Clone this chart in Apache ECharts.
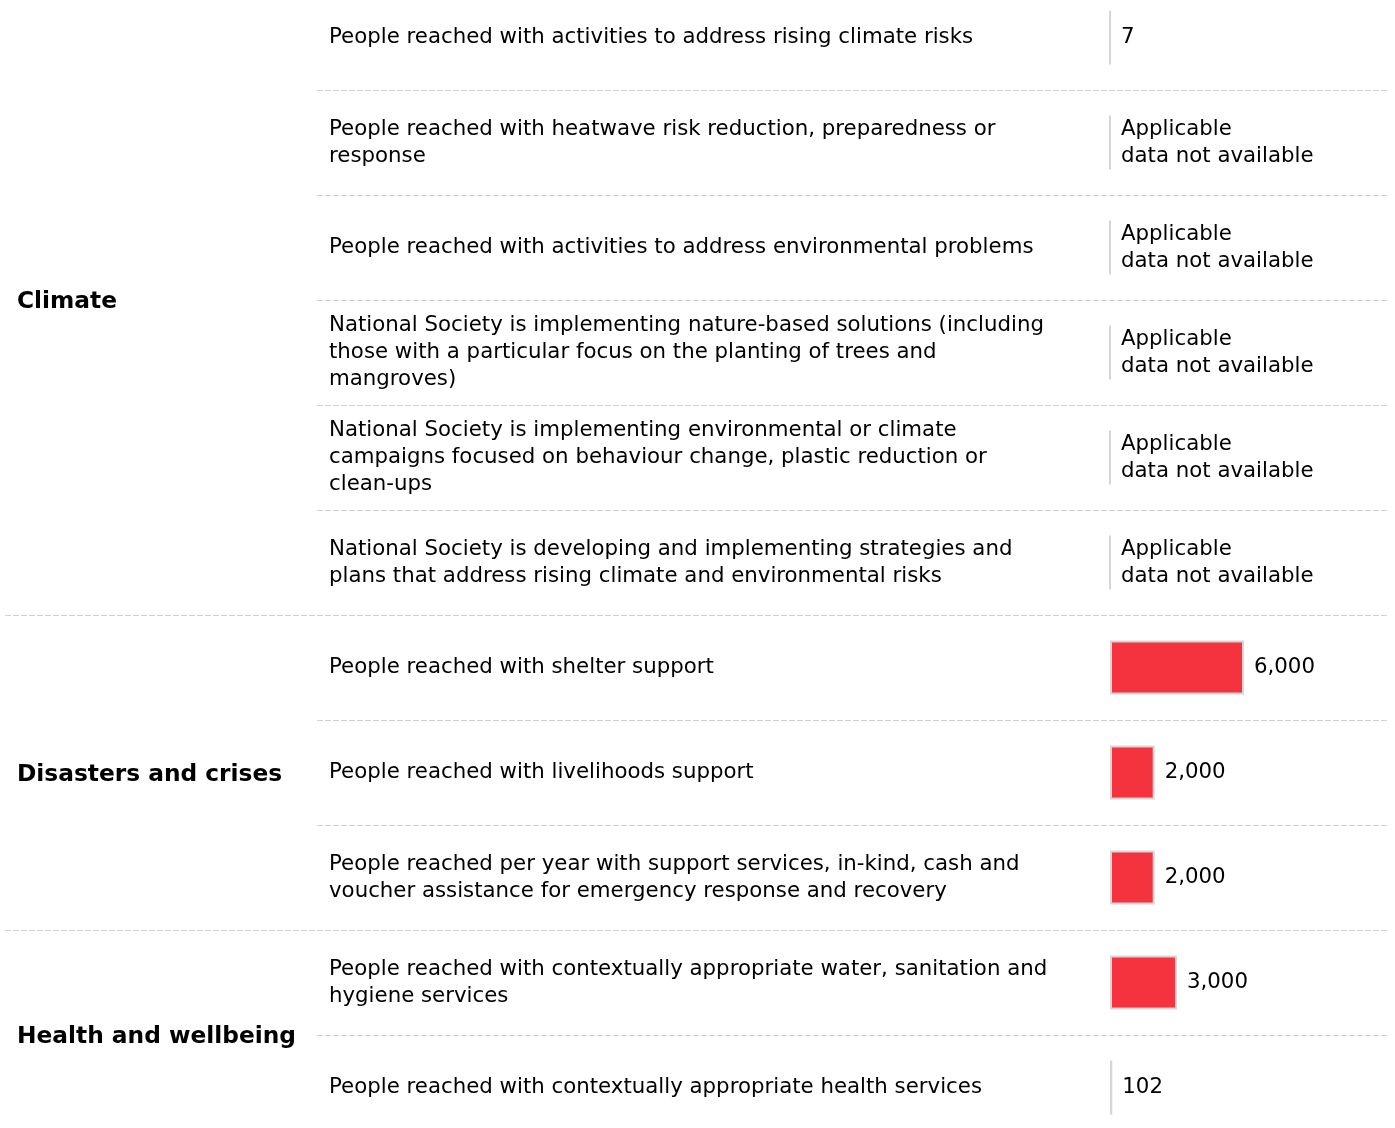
<!DOCTYPE html>
<html>
<head>
<meta charset="utf-8">
<script src="https://cdn.jsdelivr.net/npm/echarts@6/dist/echarts.min.js"></script>
<style>html,body{margin:0;padding:0;background:#fff;overflow:hidden;width:1395px;height:1128px}#c{position:absolute;left:0;top:-15px;width:1395px;height:1155px}</style>
</head>
<body>
<div id="c"></div>
<script>
const indicators = [
  "People reached with activities to address rising climate risks",
  "People reached with heatwave risk reduction, preparedness or\nresponse",
  "People reached with activities to address environmental problems",
  "National Society is implementing nature-based solutions (including\nthose with a particular focus on the planting of trees and\nmangroves)",
  "National Society is implementing environmental or climate\ncampaigns focused on behaviour change, plastic reduction or\nclean-ups",
  "National Society is developing and implementing strategies and\nplans that address rising climate and environmental risks",
  "People reached with shelter support",
  "People reached with livelihoods support",
  "People reached per year with support services, in-kind, cash and\nvoucher assistance for emergency response and recovery",
  "People reached with contextually appropriate water, sanitation and\nhygiene services",
  "People reached with contextually appropriate health services"
];
const values = [7, null, null, null, null, null, 6000, 2000, 2000, 3000, 102];
const groupNames = ["Climate", "Disasters and crises", "Health and wellbeing"];
const groupSizes = [6, 3, 2];
const naText = "Applicable\ndata not available";

const FONT = "DejaVu Sans";
const chart = echarts.init(document.getElementById('c'), null, {renderer: 'canvas'});

const groupStarts = [];
let acc = 0;
groupSizes.forEach(s => { groupStarts.push(acc); acc += s; });
const boundaryTicks = groupStarts.slice(1);

const catAxisBase = {
  type: 'category', data: indicators, inverse: true,
  axisLine: {show: false}, axisTick: {show: false}
};
const sepStyle = {color: '#d0d0d0', width: 1, type: [6, 2]};

const option = {
  animation: false,
  backgroundColor: '#fff',
  grid: [
    {left: 1110, right: 17, top: 0, bottom: 0},
    {left: 317, right: 8, top: 0, bottom: 0},
    {left: 5, right: 8, top: 0, bottom: 0}
  ],
  xAxis: [
    {gridIndex: 0, type: 'value', min: 0, max: 12000, show: false},
    {gridIndex: 1, type: 'value', min: 0, max: 1, show: false},
    {gridIndex: 2, type: 'value', min: 0, max: 1, show: false}
  ],
  yAxis: [
    Object.assign({}, catAxisBase, {
      gridIndex: 0,
      splitLine: {show: false},
      axisLabel: {
        show: true, align: 'left', margin: 781, interval: 0,
        fontFamily: FONT, fontSize: 21.3, lineHeight: 27, color: '#000',
        verticalAlign: 'middle', padding: [8, 0, 0, 0]
      }
    }),
    Object.assign({}, catAxisBase, {
      gridIndex: 1,
      axisLabel: {show: false},
      splitLine: {show: true, interval: 0, lineStyle: sepStyle}
    }),
    Object.assign({}, catAxisBase, {
      gridIndex: 2,
      axisLabel: {show: false},
      splitLine: {show: true, interval: (i) => boundaryTicks.indexOf(i) >= 0, lineStyle: sepStyle}
    })
  ],
  series: [
    {
      type: 'bar', xAxisIndex: 0, yAxisIndex: 0,
      data: values.map(v => v === null ? 0 : v),
      barWidth: 54,
      itemStyle: {color: '#f5333f', borderColor: '#d6d6d6', borderWidth: 2},
      label: {
        show: true, position: 'right', distance: 10,
        fontFamily: FONT, fontSize: 21.3, lineHeight: 27, color: '#000',
        padding: [6, 0, 0, 0],
        formatter: p => values[p.dataIndex] === null ? naText : values[p.dataIndex].toLocaleString('en-US')
      }
    },
    {
      type: 'custom', xAxisIndex: 2, yAxisIndex: 2,
      data: groupNames.map((n, i) => [0, groupStarts[i]]),
      renderItem: function (params, api) {
        const i = params.dataIndex;
        const yA = api.coord([0, groupStarts[i]])[1];
        const yB = api.coord([0, groupStarts[i] + groupSizes[i] - 1])[1];
        return {
          type: 'text',
          style: {
            text: groupNames[i], x: params.coordSys.x + 12, y: (yA + yB) / 2 + 2,
            verticalAlign: 'middle', align: 'left',
            font: 'bold 23.3px "' + FONT + '"', fill: '#000'
          }
        };
      }
    }
  ]
};
chart.setOption(option);
</script>
</body>
</html>
